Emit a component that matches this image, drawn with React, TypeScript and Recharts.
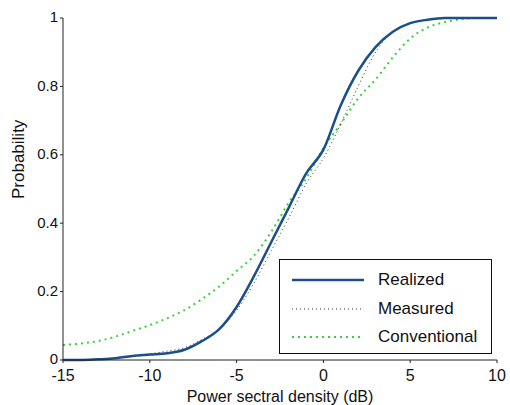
import { Line, LineChart, XAxis, YAxis } from "recharts"

const psd = [-15, -14, -13, -12, -11, -10, -9, -8, -7, -6, -5, -4, -3, -2, -1, 0, 1, 2, 3, 4, 5, 6, 7, 8, 9, 10]
const realized = [0, 0, 0.002, 0.005, 0.012, 0.016, 0.02, 0.03, 0.055, 0.09, 0.155, 0.245, 0.345, 0.445, 0.545, 0.615, 0.745, 0.845, 0.915, 0.96, 0.985, 0.995, 1, 1, 1, 1]
const measured = [0, 0, 0.002, 0.006, 0.012, 0.018, 0.026, 0.036, 0.06, 0.09, 0.145, 0.225, 0.32, 0.415, 0.515, 0.59, 0.69, 0.8, 0.9, 0.96, 0.985, 0.995, 1, 1, 1, 1]
const conventional = [0.044, 0.048, 0.055, 0.068, 0.085, 0.102, 0.122, 0.146, 0.178, 0.215, 0.26, 0.305, 0.375, 0.46, 0.53, 0.62, 0.69, 0.765, 0.82, 0.885, 0.94, 0.972, 0.988, 0.997, 1, 1]
const xTicks = [-15, -10, -5, 0, 5, 10]
const yTicks = [0, 0.2, 0.4, 0.6, 0.8, 1]

const data = psd.map((x, i) => ({
  x,
  realized: realized[i],
  measured: measured[i],
  conventional: conventional[i],
}))

const font = "'Liberation Sans', Arial, sans-serif"

const legendItems = [
  { label: "Realized", color: "#1b4f8c", dash: undefined, width: 2.5 },
  { label: "Measured", color: "#333", dash: "1 3", width: 1 },
  { label: "Conventional", color: "#3ccf3c", dash: "2 4", width: 2 },
]

// legend drawn as an overlay box, like the MATLAB one in the bottom right
const LegendBox = () => (
  <div
    style={{
      position: "absolute",
      left: 279,
      top: 259,
      border: "1.5px solid #111",
      background: "#fff",
      width: 213,
      height: 95,
      boxSizing: "border-box",
      padding: "6px 0 0 12px",
      fontFamily: font,
      fontSize: 17,
      color: "#111",
    }}
  >
    {legendItems.map((it) => (
      <div key={it.label} style={{ display: "flex", alignItems: "center", height: 28.5 }}>
        <svg width={72} height={6} style={{ marginRight: 14 }}>
          <line x1={0} y1={3} x2={72} y2={3} stroke={it.color} strokeWidth={it.width} strokeDasharray={it.dash} />
        </svg>
        <span>{it.label}</span>
      </div>
    ))}
  </div>
)

const App = () => {
  return (
    <div style={{ position: "absolute", left: 0, top: 0, width: 510, height: 405, background: "#fff" }}>
      <LineChart width={510} height={405} data={data} margin={{ top: 18, right: 13, left: 0, bottom: 0 }}>
        <XAxis
          dataKey="x"
          type="number"
          domain={[-15, 10]}
          ticks={xTicks}
          height={45}
          stroke="#222"
          tickSize={3}
          tick={{ fill: "#111", fontSize: 16, fontFamily: font, dy: 5 }}
          label={{ value: "Power sectral density (dB)", position: "insideBottom", offset: 3, fill: "#111", fontSize: 16, fontFamily: font }}
        />
        <XAxis xAxisId="top" dataKey="x" type="number" domain={[-15, 10]} orientation="top" height={0} tick={false} stroke="#222" />
        <YAxis
          type="number"
          domain={[0, 1]}
          ticks={yTicks}
          width={63}
          stroke="#222"
          tickSize={3}
          tick={{ fill: "#111", fontSize: 15, fontFamily: font, dy: -1 }}
          tickFormatter={(v) => String(v)}
          label={{ value: "Probability", angle: -90, position: "insideLeft", offset: 18, dy: 10, fill: "#111", fontSize: 17, fontFamily: font }}
        />
        <YAxis yAxisId="right" orientation="right" domain={[0, 1]} width={0} tick={false} stroke="#222" />
        <Line dataKey="conventional" type="monotone" stroke="#3ccf3c" strokeWidth={2} strokeDasharray="2 4" dot={false} isAnimationActive={false} />
        <Line dataKey="measured" type="monotone" stroke="#333" strokeWidth={1} strokeDasharray="1 3" dot={false} isAnimationActive={false} />
        <Line dataKey="realized" type="monotone" stroke="#1b4f8c" strokeWidth={2.5} dot={false} isAnimationActive={false} />
      </LineChart>
      <LegendBox />
    </div>
  )
}

export default App
